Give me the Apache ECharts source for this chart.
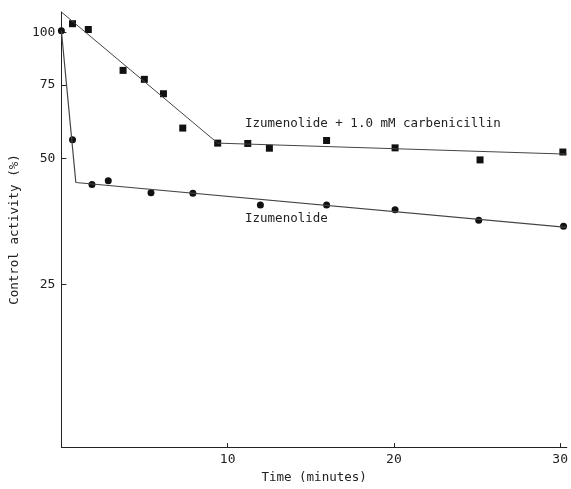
<!DOCTYPE html>
<html>
<head>
<meta charset="utf-8">
<script src="https://cdn.jsdelivr.net/npm/echarts@6/dist/echarts.min.js"></script>
<style>html,body{margin:0;padding:0;background:#fff;}#c{width:571px;height:489px;}</style>
</head>
<body>
<div id="c"></div>
<script>
// Time (minutes) and control activity (%)
var carbTimes = [0.67, 1.62, 3.71, 4.99, 6.14, 7.30, 9.40, 11.21, 12.51, 15.95, 20.07, 25.18, 30.16];
var carbValues = [105, 101.7, 81.2, 77.3, 71.4, 59.1, 54.4, 54.3, 52.9, 55.2, 53.0, 49.6, 51.8];
var izuTimes = [0, 0.67, 1.84, 2.82, 5.39, 7.91, 11.97, 15.95, 20.07, 25.1, 30.2];
var izuValues = [101, 55.4, 43.3, 44.2, 41.4, 41.3, 38.7, 38.7, 37.7, 35.6, 34.4];
// fitted lines (break points)
var carbFitTimes = [0, 9.4, 30.4];
var carbFitValues = [112, 54.4, 51.2];
var izuFitTimes = [0, 0.87, 30.4];
var izuFitValues = [101, 43.8, 34.2];
// tick labels
var yTicks = [25, 50, 75, 100];
var xTicks = [10, 20, 30];

function pairs(xs, ys) { return xs.map(function (x, i) { return [x, ys[i]]; }); }

var FONT = '"DejaVu Sans Mono", monospace';
var chart = echarts.init(document.getElementById('c'), null, { renderer: 'canvas' });
chart.setOption({
  animation: false,
  backgroundColor: '#fff',
  grid: { left: 60, right: 1, top: 12, bottom: 41, containLabel: false },
  xAxis: {
    type: 'value', min: 0, max: 30.4,
    name: 'Time (minutes)', nameLocation: 'middle', nameGap: 23,
    nameTextStyle: { fontFamily: FONT, fontSize: 12.5, color: '#222' },
    axisLine: { onZero: false, lineStyle: { color: '#222', width: 1 } },
    axisTick: { show: true, inside: true, length: 4, customValues: xTicks, lineStyle: { color: '#222' } },
    axisLabel: { customValues: xTicks, margin: 6, fontFamily: FONT, fontSize: 13, color: '#222' },
    splitLine: { show: false }
  },
  yAxis: {
    type: 'log', min: 10.2, max: 112, logBase: 10,
    name: 'Control activity (%)', nameLocation: 'middle', nameGap: 35, nameRotate: 90,
    nameTextStyle: { fontFamily: FONT, fontSize: 12.5, color: '#222' },
    axisLine: { show: true, lineStyle: { color: '#222', width: 1 } },
    axisTick: { show: true, inside: true, length: 5, customValues: yTicks, lineStyle: { color: '#222' } },
    axisLabel: { customValues: yTicks, margin: 6, fontFamily: FONT, fontSize: 13, color: '#222' },
    splitLine: { show: false }
  },
  graphic: [
    { type: 'text', left: 245, top: 117, style: { text: 'Izumenolide + 1.0 mM carbenicillin', font: '12.5px "DejaVu Sans Mono", monospace', fill: '#222' } },
    { type: 'text', left: 245, top: 212, style: { text: 'Izumenolide', font: '12.5px "DejaVu Sans Mono", monospace', fill: '#222' } }
  ],
  series: [
    { type: 'line', data: pairs(carbFitTimes, carbFitValues), symbol: 'none', lineStyle: { color: '#444', width: 1 }, silent: true },
    { type: 'line', data: pairs(izuFitTimes, izuFitValues), symbol: 'none', lineStyle: { color: '#444', width: 1.2 }, silent: true },
    { type: 'scatter', data: pairs(carbTimes, carbValues), symbol: 'rect', symbolSize: 7, itemStyle: { color: '#111', opacity: 1 } },
    { type: 'scatter', data: pairs(izuTimes, izuValues), symbol: 'circle', symbolSize: 7, itemStyle: { color: '#111', opacity: 1 } }
  ]
});
</script>
</body>
</html>
